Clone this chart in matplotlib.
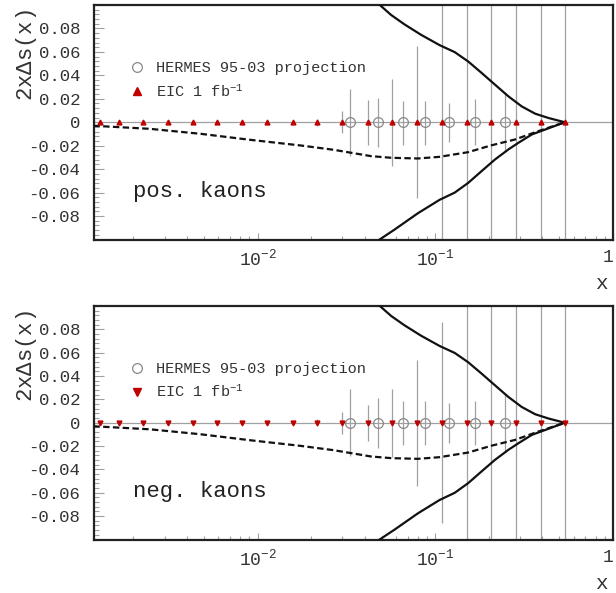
import numpy as np
import matplotlib
matplotlib.use("Agg")
import matplotlib.pyplot as plt
from matplotlib.ticker import FixedLocator, FuncFormatter, MultipleLocator, LogLocator, NullFormatter
from matplotlib.lines import Line2D

plt.rcParams['font.family'] = ['Liberation Mono', 'DejaVu Sans Mono']
plt.rcParams['mathtext.fontset'] = 'custom'
plt.rcParams['mathtext.rm'] = 'Liberation Mono'
plt.rcParams['mathtext.it'] = 'Liberation Mono'
plt.rcParams['axes.unicode_minus'] = False

# EIC 1 fb^-1 pseudo-data (all at zero)
eic_x = [0.00129, 0.00166, 0.00225, 0.00313, 0.00431, 0.00594, 0.00822, 0.01135,
         0.0158, 0.0217, 0.0299, 0.0416, 0.0571, 0.0787, 0.109, 0.150, 0.207,
         0.285, 0.392, 0.537]
eic_y = [0.0] * 20
# pos. kaons errors
eic_pos_err = [0, 0, 0, 0, 0, 0, 0, 0, 0.001, 0.003, 0.0093, 0.0192, 0.037,
               0.065, 0.2, 0.2, 0.2, 0.2, 0.2, 0.2]
# neg. kaons errors
eic_neg_err = [0, 0, 0, 0, 0, 0, 0, 0, 0.001, 0.003, 0.0093, 0.0153, 0.029,
               0.054, 0.086, 0.2, 0.2, 0.2, 0.2, 0.2]

# HERMES 95-03 projection
hermes_x = [0.0332, 0.0474, 0.0657, 0.0877, 0.1197, 0.168, 0.247]
hermes_y = [0.0] * 7
hermes_pos_err_up = [0.0285, 0.021, 0.0184, 0.0184, 0.0167, 0.020, 0.025]
hermes_pos_err_dn = [0.0285, 0.0215, 0.019, 0.019, 0.017, 0.019, 0.025]
hermes_neg_err = [0.0285, 0.0215, 0.019, 0.019, 0.017, 0.019, 0.025]

# bounds (solid) and model (dashed)
upper_x = [0.0484, 0.0564, 0.0670, 0.0833, 0.1056, 0.1286, 0.1532, 0.1821,
           0.2166, 0.2578, 0.3066, 0.3648, 0.4343, 0.5352]
upper_y = [0.1004, 0.0915, 0.0835, 0.0745, 0.0658, 0.0598, 0.0518, 0.0421,
           0.0321, 0.0221, 0.0135, 0.0073, 0.0036, 0.0]
lower_x = [0.0484, 0.0589, 0.0798, 0.1056, 0.1286, 0.1532, 0.1821, 0.2166,
           0.2578, 0.2938, 0.3494, 0.4155, 0.5352]
lower_y = [-0.1002, -0.0916, -0.0776, -0.0662, -0.0600, -0.0517, -0.0417,
           -0.0318, -0.0232, -0.0175, -0.0104, -0.0062, 0.0]
model_x = [0.00119, 0.00247, 0.00474, 0.00910, 0.01746, 0.0268, 0.0435, 0.0564,
           0.0798, 0.1056, 0.1532, 0.2066, 0.2811, 0.3812, 0.5352]
model_y = [-0.0030, -0.0056, -0.0098, -0.0150, -0.0198, -0.0235, -0.0289,
           -0.0303, -0.0309, -0.0295, -0.0255, -0.0197, -0.0147, -0.0075, 0.0]

yticks = [-0.08, -0.06, -0.04, -0.02, 0.0, 0.02, 0.04, 0.06, 0.08]

txtc = '#333333'
gray = '#a0a0a0'
red = '#c00000'


def yfmt(v, pos):
    if abs(v) < 1e-9:
        return '0'
    return '%.2f' % v


def xfmt(v, pos):
    if abs(v - 1) < 1e-9:
        return '1'
    return r'$\mathregular{10^{%d}}$' % int(round(np.log10(v)))


def panel(ax, eic_marker, name, herr, eerr):
    ax.set_xscale('log')
    ax.set_xlim(0.0012, 1.0)
    ax.set_ylim(-0.1, 0.1)

    ax.axhline(0, color=gray, lw=0.9, zorder=1)
    ax.errorbar(eic_x, eic_y, yerr=eerr, fmt='none', ecolor=gray,
                elinewidth=0.9, capsize=0, zorder=2)
    ax.errorbar(hermes_x, hermes_y, yerr=herr, fmt='o', ms=7, mfc='none',
                mec='#888888', mew=0.9, ecolor=gray, elinewidth=0.9,
                capsize=0, zorder=3)

    ax.plot(upper_x, upper_y, color='#111111', lw=1.6, zorder=4)
    ax.plot(lower_x, lower_y, color='#111111', lw=1.6, zorder=4)
    ax.plot(model_x, model_y, color='#111111', lw=1.6, dashes=(2.9, 1.5), zorder=4)

    ax.plot(eic_x, eic_y, ls='none', marker=eic_marker, ms=3.5, color=red,
            mec=red, zorder=5)

    for s in ax.spines.values():
        s.set_linewidth(1.6)
        s.set_color('#222222')

    ax.yaxis.set_major_locator(FixedLocator(yticks))
    ax.yaxis.set_major_formatter(FuncFormatter(yfmt))
    ax.yaxis.set_minor_locator(MultipleLocator(0.004))
    ax.xaxis.set_major_locator(LogLocator(base=10, numticks=10))
    ax.xaxis.set_minor_locator(LogLocator(base=10, subs=np.arange(2, 10), numticks=20))
    ax.xaxis.set_major_formatter(FuncFormatter(xfmt))
    ax.xaxis.set_minor_formatter(NullFormatter())

    ax.tick_params(axis='y', which='major', direction='in', length=7, width=0.8,
                   color=gray, labelsize=12.5, labelcolor=txtc, pad=10)
    ax.tick_params(axis='y', which='minor', direction='in', length=3.5, width=0.8,
                   color=gray)
    ax.tick_params(axis='x', which='major', direction='in', length=5, width=0.8,
                   color=gray, labelsize=13, labelcolor=txtc, pad=7)
    ax.tick_params(axis='x', which='minor', direction='in', length=3, width=0.8,
                   color=gray)
    ax.tick_params(top=False, right=False, which='both')

    ax.set_ylabel(r'2x$\Delta$s(x)', fontsize=16, color=txtc, loc='top')
    ax.yaxis.set_label_coords(-0.106, 0.98)
    ax.set_xlabel('x', fontsize=15, color=txtc, loc='right', va='baseline')
    ax.xaxis.set_label_coords(0.99, -0.21)

    handles = [
        Line2D([], [], ls='none', marker='o', ms=7, mfc='none', mec='#888888', mew=0.9),
        Line2D([], [], ls='none', marker=eic_marker, ms=6, color=red),
    ]
    labels = ['HERMES 95-03 projection', r'EIC 1 fb$^{-1}$']
    leg = ax.legend(handles, labels, loc='upper left', bbox_to_anchor=(0.068, 0.76),
                    frameon=False, fontsize=11, handlelength=1.0, handletextpad=0.75,
                    borderpad=0, borderaxespad=0, labelspacing=0.5, numpoints=1)
    for t in leg.get_texts():
        t.set_color(txtc)

    ax.text(0.075, 0.205, name, transform=ax.transAxes, fontsize=16,
            color='#222222', va='center', ha='left')


fig = plt.figure(figsize=(6.16, 5.93), dpi=100)
ax1 = fig.add_axes([0.1526, 0.5961, 0.8425, 0.3955])
ax2 = fig.add_axes([0.1526, 0.0902, 0.8425, 0.3938])

panel(ax1, '^', 'pos. kaons', [hermes_pos_err_dn, hermes_pos_err_up], eic_pos_err)
panel(ax2, 'v', 'neg. kaons', hermes_neg_err, eic_neg_err)

# keep the "1" label at the right end inside the figure
fig.canvas.draw()
for ax in (ax1, ax2):
    for lab in ax.get_xticklabels():
        if lab.get_text() == '1':
            lab.set_ha('right')

fig.savefig('out.png', dpi=100)
